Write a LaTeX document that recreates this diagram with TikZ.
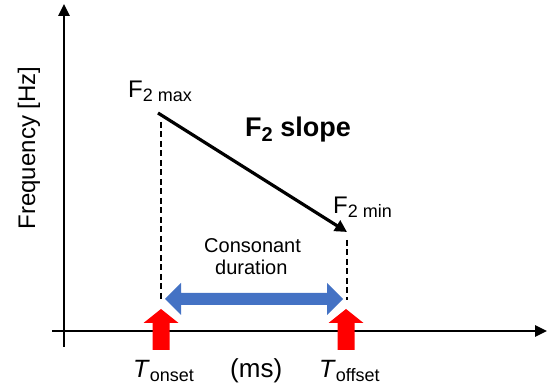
\documentclass[tikz,border=0pt]{standalone}
\usepackage{fontspec}
\setmainfont{Liberation Sans}
\usetikzlibrary{arrows.meta,calc}

\newcommand{\fsz}[1]{\fontsize{#1}{#1}\selectfont}
\newcommand{\lowsub}[2]{\raisebox{-0.3ex}{\fsz{#1}#2}}

\definecolor{durblue}{RGB}{68,114,196}

\tikzset{
  axis/.style={line width=2.6pt,-{Triangle[length=12pt,width=11pt]}},
  guide/.style={line width=2pt,dash pattern=on 6pt off 3.5pt},
  slope/.style={line width=3.2pt,-{Triangle[length=12pt,width=12pt]}},
  lbl/.style={inner sep=0pt,anchor=base west},
  timemark/.style={fill=red},
  durarrow/.style={fill=durblue}
}

\begin{document}
\begin{tikzpicture}[x=1pt,y=-1pt]
  \useasboundingbox (0,0) rectangle (547,390);

  % axes
  \coordinate (ybot) at (64,347);
  \coordinate (ytop) at (64,4);
  \coordinate (xleft) at (52,331);
  \coordinate (xright) at (547,331);
  \draw[axis] (ybot) -- (ytop);
  \draw[axis] (xleft) -- (xright);
  \node[rotate=90,inner sep=0pt] (ylab) at (29,148) {\fsz{24}Frequency [Hz]};

  % formant slope
  \coordinate (smax) at (158,113);
  \coordinate (smin) at (347,232);
  \draw[slope] (smax) -- (smin);
  \node[lbl] (fmax) at (128,98) {\fsz{24}F\lowsub{18}{2 max}};
  \node[lbl] (fmin) at (333,214) {\fsz{24}F\lowsub{18}{2 min}};
  \node[lbl] (title) at (245,137) {\fsz{27}\textbf{F\lowsub{20}{2} slope}};

  % onset / offset guides
  \coordinate (gon) at (161,122);
  \coordinate (gonb) at (161,300);
  \coordinate (goff) at (347,240);
  \coordinate (goffb) at (347,300);
  \draw[guide] (gon) -- (gonb);
  \draw[guide] (goff) -- (goffb);

  % duration
  \coordinate (dl) at (165,299);
  \coordinate (dr) at (343,299);
  \fill[durarrow] (dl) -- ++(16,-16) -- ++(0,10) -- ($(dr)+(-16,-6)$)
    -- ++(0,-10) -- (dr) -- ++(-16,16) -- ++(0,-10) -- ($(dl)+(16,6)$)
    -- ++(0,10) -- cycle;
  \node[lbl] (cons) at (204,253) {\fsz{20}Consonant};
  \node[lbl] (durlab) at (215,275) {\fsz{20}duration};

  % time markers
  \coordinate (on) at (161,309);
  \coordinate (off) at (346,309);
  \foreach \t in {on,off}
    \fill[timemark] (\t) -- ++(17.5,14) -- ++(-9,0) -- ++(0,27) -- ++(-17,0)
      -- ++(0,-27) -- ++(-9,0) -- cycle;
  \node[lbl] (ton) at (133,378) {\fsz{25}\textit{T}\lowsub{18}{onset}};
  \node[lbl] (toff) at (319,378) {\fsz{25}\textit{T}\lowsub{18}{offset}};
  \node[lbl] (ms) at (230,378) {\fsz{26}(ms)};
\end{tikzpicture}
\end{document}
